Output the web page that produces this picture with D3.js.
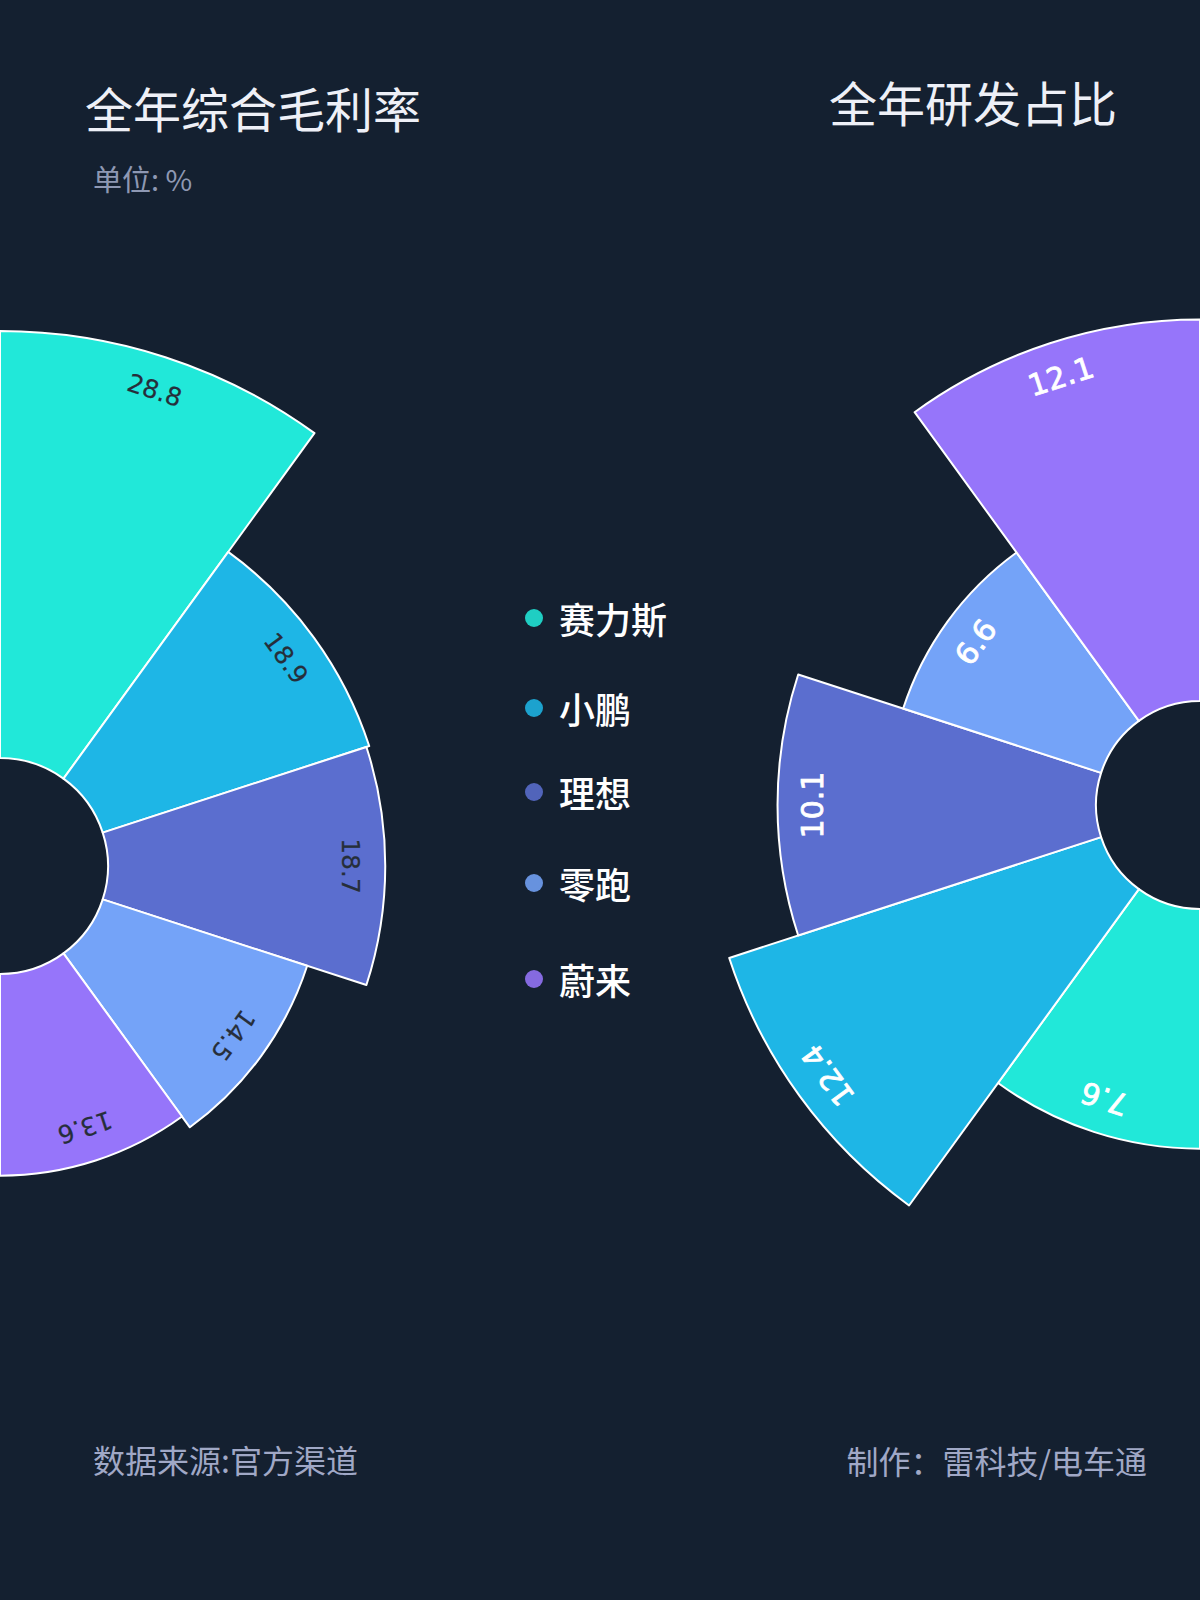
<!DOCTYPE html>
<html lang="zh-CN">
<head>
<meta charset="utf-8">
<title>全年综合毛利率 / 全年研发占比</title>
<script src="https://cdn.jsdelivr.net/npm/d3@7/dist/d3.min.js"></script>
<style>
    html, body { margin: 0; padding: 0; background: #142030; }
    svg { display: block; }
</style>
</head>
<body>
<svg id="chart" width="1200" height="1600"></svg>
<script>
// Dados.
const marcas = ['赛力斯', '小鹏', '理想', '零跑', '蔚来'];
const margemBruta = [28.8, 18.9, 18.7, 14.5, 13.6];   // 全年综合毛利率 (%)
const pesquisaDesenvolvimento = [7.6, 12.4, 10.1, 6.6, 12.1];   // 全年研发占比 (%)
const cores = ['#21e8d9', '#1eb6e6', '#5b6ecf', '#74a3f8', '#9675fa'];

// Posições verticais dos itens da legenda (layout, não dados).
const posLegenda = [618, 708, 792, 883, 979];

const FONTE_CJK = '"Noto Sans CJK SC", "Noto Sans", sans-serif';
const FONTE_NUM = '"DejaVu Sans", sans-serif';

const svg = d3.select('#chart');

svg.append('rect')
    .attr('width', 1200)
    .attr('height', 1600)
    .attr('fill', '#142030');

// Desenha meia rosa (raio proporcional ao valor, ângulos iguais).
function desenharRosa(opcoes) {
    const g = svg.append('g')
        .attr('transform', `translate(${opcoes.cx},${opcoes.cy})`);

    const angulo = d3.scaleBand()
        .domain(marcas)
        .range([opcoes.inicio, opcoes.inicio + Math.PI]);

    const raio = d3.scaleLinear()
        .domain([0, d3.max(opcoes.valores)])
        .range([opcoes.raioInterno, opcoes.raioExterno]);

    const dados = marcas.map((marca, i) => ({
        marca: marca,
        valor: opcoes.valores[i],
        cor: cores[i]
    }));

    const arco = d3.arc()
        .innerRadius(opcoes.raioInterno)
        .outerRadius(d => raio(d.valor))
        .startAngle(d => angulo(d.marca))
        .endAngle(d => angulo(d.marca) + angulo.bandwidth());

    g.selectAll('path.setor')
        .data(dados)
        .enter()
        .append('path')
        .attr('class', 'setor')
        .attr('d', arco)
        .attr('fill', d => d.cor)
        .attr('stroke', '#ffffff')
        .attr('stroke-width', 2)
        .attr('stroke-linejoin', 'round');

    // Rótulos girados tangencialmente, perto da borda externa.
    g.selectAll('text.rotulo')
        .data(dados)
        .enter()
        .append('text')
        .attr('class', 'rotulo')
        .attr('transform', d => {
            const a = angulo(d.marca) + angulo.bandwidth() / 2;
            const r = raio(d.valor) - 35;
            const x = r * Math.sin(a);
            const y = -r * Math.cos(a);
            return `translate(${x},${y}) rotate(${a * 180 / Math.PI})`;
        })
        .attr('text-anchor', 'middle')
        .attr('dominant-baseline', 'central')
        .attr('font-family', FONTE_NUM)
        .attr('font-size', opcoes.tamanhoRotulo)
        .attr('fill', opcoes.corRotulo)
        .attr('stroke', opcoes.corRotulo)
        .attr('stroke-width', opcoes.contornoRotulo)
        .text(d => d.valor.toFixed(1));
}

desenharRosa({
    valores: margemBruta,
    cx: 0, cy: 866,
    inicio: 0,
    raioInterno: 108, raioExterno: 535,
    tamanhoRotulo: 25,
    contornoRotulo: 0.2,
    corRotulo: '#262e3a'
});

desenharRosa({
    valores: pesquisaDesenvolvimento,
    cx: 1200, cy: 805,
    inicio: Math.PI,
    raioInterno: 104, raioExterno: 495,
    tamanhoRotulo: 30,
    contornoRotulo: 0.8,
    corRotulo: '#ffffff'
});

// Legenda central.
const legenda = svg.append('g');
const itens = legenda.selectAll('g')
    .data(marcas)
    .enter()
    .append('g')
    .attr('transform', (d, i) => `translate(534,${posLegenda[i]})`);

itens.append('circle')
    .attr('r', 9)
    .attr('fill', (d, i) => cores[i])
    .attr('fill-opacity', 0.87);

itens.append('text')
    .attr('x', 25)
    .attr('dominant-baseline', 'central')
    .attr('font-family', FONTE_CJK)
    .attr('font-size', 36)
    .attr('font-weight', 500)
    .attr('fill', '#ffffff')
    .text(d => d);

// Títulos e rodapé.
function texto(x, y, conteudo, tamanho, cor, ancora) {
    svg.append('text')
        .attr('x', x)
        .attr('y', y)
        .attr('text-anchor', ancora || 'start')
        .attr('dominant-baseline', 'central')
        .attr('font-family', FONTE_CJK)
        .attr('font-size', tamanho)
        .attr('fill', cor)
        .text(conteudo);
}

texto(85, 107, '全年综合毛利率', 48, '#eef0f7');
texto(93, 178, '单位: %', 29, '#8e98b3');
texto(1117, 101, '全年研发占比', 48, '#eef0f7', 'end');
texto(93, 1459, '数据来源:官方渠道', 32, '#a0a8c6');
texto(1147, 1460, '制作：雷科技/电车通', 32, '#a0a8c6', 'end');
</script>
</body>
</html>
